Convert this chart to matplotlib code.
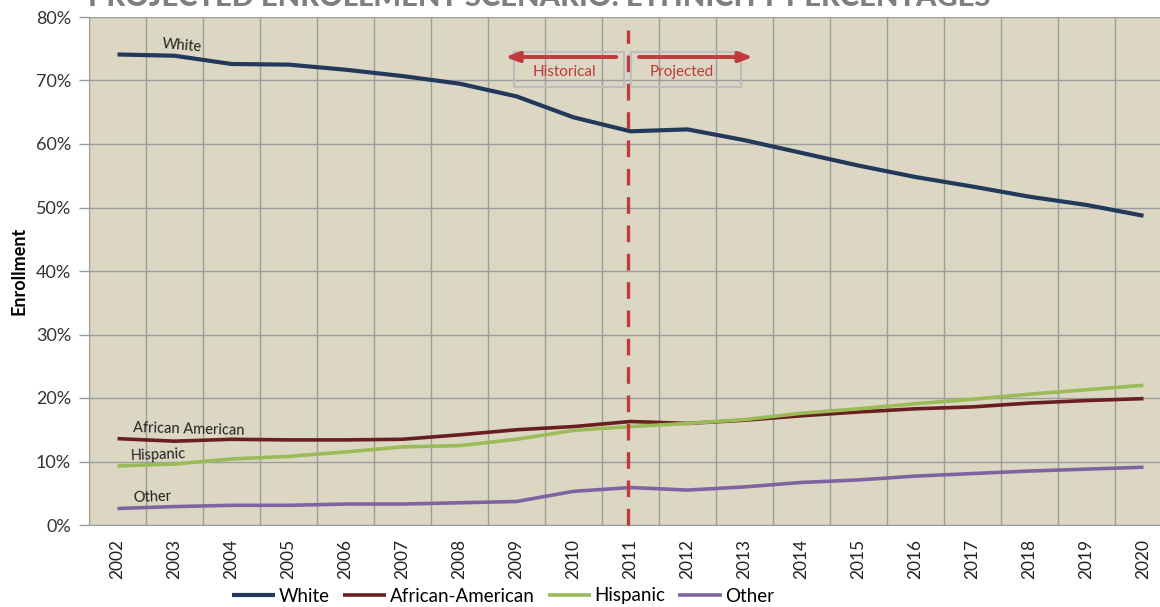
import numpy as np
from matplotlib import pyplot as plt
from matplotlib.ticker import PercentFormatter
from matplotlib.patches import Rectangle

plt.rcParams['font.family'] = ['Lato', 'DejaVu Sans']

# enrollment share by ethnicity, 2002-2011 historical, 2012-2020 projected
years = [str(y) for y in range(2002, 2021)]
white = [74.1, 73.9, 72.6, 72.5, 71.7, 70.7, 69.5, 67.5, 64.2, 62.0,
         62.3, 60.6, 58.6, 56.6, 54.8, 53.3, 51.7, 50.4, 48.7]
african_american = [13.6, 13.2, 13.5, 13.4, 13.4, 13.5, 14.2, 15.0, 15.5, 16.3,
                    16.0, 16.5, 17.2, 17.8, 18.3, 18.6, 19.2, 19.6, 19.9]
hispanic = [9.3, 9.6, 10.4, 10.8, 11.5, 12.3, 12.5, 13.5, 14.9, 15.5,
            16.0, 16.6, 17.6, 18.3, 19.1, 19.8, 20.6, 21.3, 22.0]
other = [2.6, 2.9, 3.1, 3.1, 3.3, 3.3, 3.5, 3.7, 5.3, 5.9,
         5.5, 6.0, 6.7, 7.1, 7.7, 8.1, 8.5, 8.8, 9.1]
split_year = "2011"

series = [("White", white, "#23395b", 3.0),
          ("African-American", african_american, "#6a1f1f", 2.6),
          ("Hispanic", hispanic, "#9bbb59", 2.6),
          ("Other", other, "#8064a2", 2.6)]

bg = "#dbd7c3"
grid_c = "#9c9c9c"
red = "#c0393b"

fig = plt.figure(figsize=(11.6, 6.07), dpi=100)
# plot area runs a bit past the right edge, like the source image
ax = fig.add_axes([89 / 1160, 82 / 607, 1083 / 1160, 508 / 607])
ax.set_facecolor(bg)

x = np.arange(len(years))
for name, vals, col, lw in series:
    ax.plot(x, vals, color=col, lw=lw, label=name, solid_capstyle='butt', zorder=3)

ax.set_xlim(-0.5, len(years) - 0.5)
ax.set_ylim(0, 80)
ax.set_yticks(np.arange(0, 81, 10))
ax.yaxis.set_major_formatter(PercentFormatter(decimals=0))
ax.set_xticks(x)
ax.set_xticklabels(years, rotation=90)
ax.set_xticks(np.arange(-0.5, len(years), 1), minor=True)

ax.grid(axis='y', which='major', color=grid_c, lw=1)
ax.grid(axis='x', which='minor', color=grid_c, lw=1)
ax.grid(axis='x', which='major', visible=False)
ax.set_axisbelow(True)

ax.tick_params(axis='x', which='both', length=0, pad=10, labelsize=12.5, labelcolor='#222222')
ax.tick_params(axis='y', length=7, width=1, color=grid_c, pad=6, labelsize=13, labelcolor='#333333')
for s in ['top', 'right']:
    ax.spines[s].set_visible(False)
ax.spines['left'].set_color(grid_c)
ax.spines['bottom'].set_color(grid_c)

ax.set_ylabel("Enrollment", fontsize=13, fontweight='bold', labelpad=6)

# historical / projected divider
xs = years.index(split_year)
ax.plot([xs - 0.04, xs - 0.04], [0, 78], color=red, lw=2.4, ls=(0, (5, 3.5)), zorder=4, clip_on=False)

for x0, x1, txt in [(6.96, 8.89, "Historical"), (9.01, 10.94, "Projected")]:
    ax.add_patch(Rectangle((x0, 69.0), x1 - x0, 5.5, fill=False, ec='#bdbdbd', lw=1.5, zorder=4))
    ax.text((x0 + x1) / 2 - 0.08, 71.4, txt, color=red, fontsize=11, ha='center', va='center', zorder=5)

arrow_kw = dict(arrowstyle='-|>,head_length=0.8,head_width=0.3', color=red, lw=2.8,
                shrinkA=0, shrinkB=0)
ax.annotate("", xy=(6.80, 73.7), xytext=(8.75, 73.7), arrowprops=arrow_kw, zorder=5)
ax.annotate("", xy=(11.15, 73.7), xytext=(9.15, 73.7), arrowprops=arrow_kw, zorder=5)

# inline series labels
lab_kw = dict(fontsize=10.5, color='#222222', ha='left', va='center', zorder=5)
ax.text(0.78, 75.4, "White", rotation=-5, **lab_kw)
ax.text(0.27, 15.1, "African American", rotation=-1.5, **lab_kw)
ax.text(0.22, 11.0, "Hispanic", rotation=2, **lab_kw)
ax.text(0.27, 4.3, "Other", rotation=2, **lab_kw)

# title is cut off at the top of the source image
fig.text(88 / 1160, 1 - 6 / 607, "PROJECTED ENROLLMENT SCENARIO: ETHNICITY PERCENTAGES",
         fontsize=21, fontweight='black', color='#7f7f7f', ha='left', va='baseline')

fig.legend(loc='center', bbox_to_anchor=(503 / 1160, 11 / 607), ncol=4, frameon=False,
           fontsize=13.5, handlelength=2.3, handletextpad=0.2, columnspacing=0.7)

plt.savefig("out.png", dpi=100)
plt.close()
